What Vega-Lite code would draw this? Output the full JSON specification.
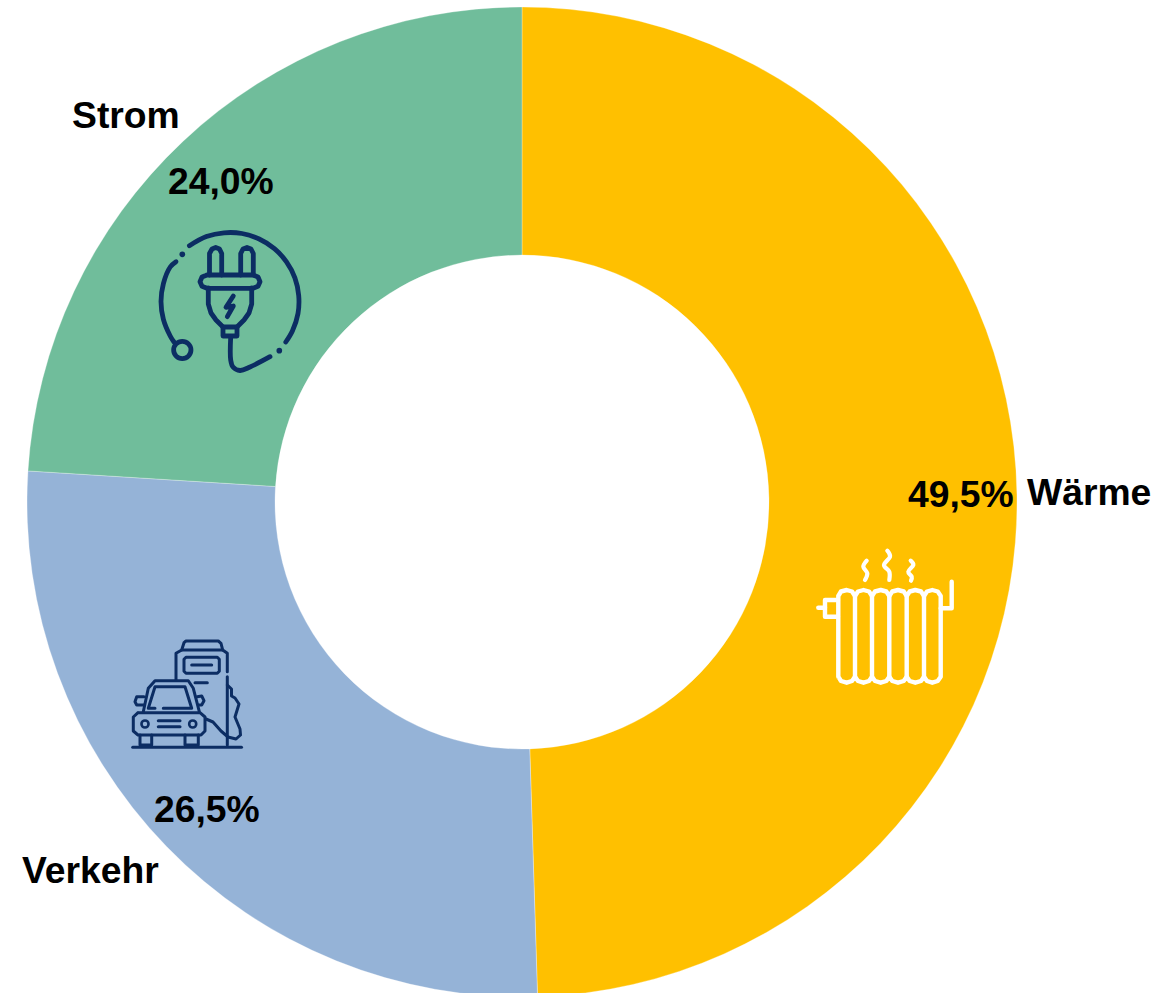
{"$schema":"https://vega.github.io/schema/vega-lite/v6.json","width":1044,"height":1004,"padding":{"left":0,"top":0,"right":109,"bottom":0},"autosize":{"type":"none"},"background":"#ffffff","config":{"view":{"stroke":null}},
"datasets":{
"shares":[{"sector":"Wärme","share":49.5,"rank":1},{"sector":"Verkehr","share":26.5,"rank":2},{"sector":"Strom","share":24.0,"rank":3}],
"labels":[{"t":"Strom","x":72,"y":128},{"t":"24,0%","x":168,"y":194},{"t":"Wärme","x":1027,"y":505},{"t":"49,5%","x":908,"y":507},{"t":"26,5%","x":154,"y":822},{"t":"Verkehr","x":22,"y":883}],
"plug":[
{"p":"a","s":1,"x":189.4,"y":245.7},{"p":"a","s":2,"x":206.4,"y":236.6},{"p":"a","s":3,"x":224,"y":232.8},{"p":"a","s":4,"x":242,"y":233.5},{"p":"a","s":5,"x":259.2,"y":239},{"p":"a","s":6,"x":274.4,"y":248.6},{"p":"a","s":7,"x":286.5,"y":261.9},{"p":"a","s":8,"x":294.9,"y":277.9},{"p":"a","s":9,"x":298.7,"y":295.5},{"p":"a","s":10,"x":298,"y":313.5},{"p":"a","s":11,"x":292.5,"y":330.7},{"p":"a","s":12,"x":285.8,"y":342},
{"p":"b","s":1,"x":176,"y":261.7},{"p":"b","s":2,"x":170.2,"y":267},{"p":"b","s":3,"x":163.4,"y":283.6},{"p":"b","s":4,"x":161,"y":301.5},{"p":"b","s":5,"x":163.4,"y":319.4},{"p":"b","s":6,"x":170.2,"y":336},{"p":"b","s":7,"x":174,"y":342},
{"p":"c","s":1,"x":209.5,"y":275},{"p":"c","s":2,"x":209.5,"y":253.5},{"p":"c","s":3,"x":212,"y":249},{"p":"c","s":4,"x":215.7,"y":247.5},{"p":"c","s":5,"x":219.5,"y":249},{"p":"c","s":6,"x":221.7,"y":253.5},{"p":"c","s":7,"x":221.7,"y":275},
{"p":"d","s":1,"x":240.7,"y":275},{"p":"d","s":2,"x":240.7,"y":253.5},{"p":"d","s":3,"x":243,"y":249},{"p":"d","s":4,"x":247,"y":247.5},{"p":"d","s":5,"x":251,"y":249},{"p":"d","s":6,"x":253.3,"y":253.5},{"p":"d","s":7,"x":253.3,"y":275},
{"p":"e","s":1,"x":207,"y":275},{"p":"e","s":2,"x":253,"y":275},{"p":"e","s":3,"x":258,"y":277},{"p":"e","s":4,"x":260,"y":281.7},{"p":"e","s":5,"x":258,"y":286.3},{"p":"e","s":6,"x":253,"y":288.3},{"p":"e","s":7,"x":207,"y":288.3},{"p":"e","s":8,"x":202,"y":286.3},{"p":"e","s":9,"x":200,"y":281.7},{"p":"e","s":10,"x":202,"y":277},{"p":"e","s":11,"x":207,"y":275},
{"p":"f","s":1,"x":208.3,"y":288},{"p":"f","s":2,"x":208.3,"y":304},{"p":"f","s":3,"x":211,"y":313},{"p":"f","s":4,"x":216,"y":320},{"p":"f","s":5,"x":223,"y":327},{"p":"f","s":6,"x":237,"y":327},{"p":"f","s":7,"x":244,"y":320},{"p":"f","s":8,"x":249,"y":313},{"p":"f","s":9,"x":251.7,"y":304},{"p":"f","s":10,"x":251.7,"y":288},
{"p":"g","s":1,"x":223,"y":327},{"p":"g","s":2,"x":223,"y":336},{"p":"g","s":3,"x":237,"y":336},{"p":"g","s":4,"x":237,"y":327},
{"p":"h","s":1,"x":230.7,"y":336.7},{"p":"h","s":2,"x":230.7,"y":360},{"p":"h","s":3,"x":233,"y":367},{"p":"h","s":4,"x":240,"y":370.5},{"p":"h","s":5,"x":250,"y":367},{"p":"h","s":6,"x":270,"y":356.7},
{"p":"i","s":1,"x":233.3,"y":296},{"p":"i","s":2,"x":226,"y":307.3},{"p":"i","s":3,"x":233.3,"y":306},{"p":"i","s":4,"x":227.3,"y":316.7}],
"plugRing":[{"x":182.3,"y":350}],
"plugDots":[{"x":182.3,"y":254.3},{"x":279.3,"y":350.7}],
"car":[
{"p":"a","s":1,"x":176,"y":680},{"p":"a","s":2,"x":176,"y":653.3},{"p":"a","s":3,"x":181.7,"y":650},{"p":"a","s":4,"x":184,"y":642.7},{"p":"a","s":5,"x":186,"y":641},{"p":"a","s":6,"x":218.3,"y":641},{"p":"a","s":7,"x":221,"y":643.3},{"p":"a","s":8,"x":222.7,"y":650},{"p":"a","s":9,"x":227.3,"y":653.3},{"p":"a","s":10,"x":227.3,"y":671.7},
{"p":"b","s":1,"x":181.7,"y":650},{"p":"b","s":2,"x":222.7,"y":650},
{"p":"c","s":1,"x":227.3,"y":676.7},{"p":"c","s":2,"x":227.3,"y":745},
{"p":"d","s":1,"x":186,"y":657.3},{"p":"d","s":2,"x":217.3,"y":657.3},{"p":"d","s":3,"x":219.3,"y":659.3},{"p":"d","s":4,"x":219.3,"y":671.3},{"p":"d","s":5,"x":217.3,"y":673.3},{"p":"d","s":6,"x":186,"y":673.3},{"p":"d","s":7,"x":184,"y":671.3},{"p":"d","s":8,"x":184,"y":659.3},{"p":"d","s":9,"x":186,"y":657.3},
{"p":"e","s":1,"x":191.7,"y":665},{"p":"e","s":2,"x":211.7,"y":665},
{"p":"f","s":1,"x":195,"y":682.7},{"p":"f","s":2,"x":207.3,"y":682.7},
{"p":"g","s":1,"x":143.3,"y":711.7},{"p":"g","s":2,"x":148.3,"y":688.3},{"p":"g","s":3,"x":155,"y":680.7},{"p":"g","s":4,"x":188.3,"y":680.7},{"p":"g","s":5,"x":193.3,"y":688.3},{"p":"g","s":6,"x":199.3,"y":711.7},
{"p":"h","s":1,"x":155,"y":708.3},{"p":"h","s":2,"x":148.3,"y":708.3},{"p":"h","s":3,"x":155,"y":686.7},{"p":"h","s":4,"x":185,"y":686.7},{"p":"h","s":5,"x":191.7,"y":708.3},{"p":"h","s":6,"x":163.3,"y":708.3},
{"p":"i","s":1,"x":138,"y":712.7},{"p":"i","s":2,"x":200,"y":712.7},{"p":"i","s":3,"x":205,"y":717},{"p":"i","s":4,"x":205,"y":731},{"p":"i","s":5,"x":201,"y":735},{"p":"i","s":6,"x":138,"y":735},{"p":"i","s":7,"x":133.3,"y":731},{"p":"i","s":8,"x":133.3,"y":717},{"p":"i","s":9,"x":138,"y":712.7},
{"p":"j","s":1,"x":144,"y":696.7},{"p":"j","s":2,"x":136.7,"y":696.7},{"p":"j","s":3,"x":135,"y":701.7},{"p":"j","s":4,"x":136.7,"y":705},{"p":"j","s":5,"x":144,"y":705},
{"p":"k","s":1,"x":197.3,"y":696.7},{"p":"k","s":2,"x":201.7,"y":696},{"p":"k","s":3,"x":204,"y":700.7},{"p":"k","s":4,"x":201.7,"y":705},{"p":"k","s":5,"x":198.3,"y":705},
{"p":"l","s":1,"x":158.3,"y":720.7},{"p":"l","s":2,"x":180,"y":720.7},
{"p":"m","s":1,"x":158.3,"y":726.7},{"p":"m","s":2,"x":180,"y":726.7},
{"p":"n","s":1,"x":140,"y":735},{"p":"n","s":2,"x":140,"y":745},{"p":"n","s":3,"x":151.7,"y":745},{"p":"n","s":4,"x":151.7,"y":735},
{"p":"o","s":1,"x":185,"y":735},{"p":"o","s":2,"x":185,"y":745},{"p":"o","s":3,"x":198.3,"y":745},{"p":"o","s":4,"x":198.3,"y":735},
{"p":"q","s":1,"x":132.7,"y":747.3},{"p":"q","s":2,"x":241.5,"y":747.3},
{"p":"r","s":1,"x":206,"y":719},{"p":"r","s":2,"x":213,"y":722},{"p":"r","s":3,"x":221,"y":731},{"p":"r","s":4,"x":228,"y":737},{"p":"r","s":5,"x":236,"y":739},{"p":"r","s":6,"x":240.5,"y":735},{"p":"r","s":7,"x":240,"y":729},{"p":"r","s":8,"x":235,"y":717},{"p":"r","s":9,"x":239,"y":704},{"p":"r","s":10,"x":235,"y":698},{"p":"r","s":11,"x":231.5,"y":696},{"p":"r","s":12,"x":231.5,"y":689},{"p":"r","s":13,"x":227.3,"y":685}],
"carLamps":[{"x":145,"y":724},{"x":192.7,"y":724}],
"radiator":[
{"p":"a","s":1,"x":838.3,"y":676.7},{"p":"a","s":2,"x":838.3,"y":596},{"p":"a","s":3,"x":841,"y":591.5},{"p":"a","s":4,"x":846.7,"y":590},{"p":"a","s":5,"x":852,"y":591.5},{"p":"a","s":6,"x":855,"y":596},{"p":"a","s":7,"x":858,"y":591.5},{"p":"a","s":8,"x":863.5,"y":590},{"p":"a","s":9,"x":869,"y":591.5},{"p":"a","s":10,"x":872,"y":596},{"p":"a","s":11,"x":875,"y":591.5},{"p":"a","s":12,"x":880.7,"y":590},{"p":"a","s":13,"x":886.3,"y":591.5},{"p":"a","s":14,"x":889.3,"y":596},{"p":"a","s":15,"x":892.3,"y":591.5},{"p":"a","s":16,"x":898,"y":590},{"p":"a","s":17,"x":903.7,"y":591.5},{"p":"a","s":18,"x":906.7,"y":596},{"p":"a","s":19,"x":909.7,"y":591.5},{"p":"a","s":20,"x":915.3,"y":590},{"p":"a","s":21,"x":921,"y":591.5},{"p":"a","s":22,"x":924,"y":596},{"p":"a","s":23,"x":927,"y":591.5},{"p":"a","s":24,"x":932.3,"y":590},{"p":"a","s":25,"x":937.7,"y":591.5},{"p":"a","s":26,"x":940.7,"y":596},{"p":"a","s":27,"x":940.7,"y":676.7},{"p":"a","s":28,"x":937.7,"y":681},{"p":"a","s":29,"x":932.3,"y":682.7},{"p":"a","s":30,"x":927,"y":681},{"p":"a","s":31,"x":924,"y":676.7},{"p":"a","s":32,"x":921,"y":681},{"p":"a","s":33,"x":915.3,"y":682.7},{"p":"a","s":34,"x":909.7,"y":681},{"p":"a","s":35,"x":906.7,"y":676.7},{"p":"a","s":36,"x":903.7,"y":681},{"p":"a","s":37,"x":898,"y":682.7},{"p":"a","s":38,"x":892.3,"y":681},{"p":"a","s":39,"x":889.3,"y":676.7},{"p":"a","s":40,"x":886.3,"y":681},{"p":"a","s":41,"x":880.7,"y":682.7},{"p":"a","s":42,"x":875,"y":681},{"p":"a","s":43,"x":872,"y":676.7},{"p":"a","s":44,"x":869,"y":681},{"p":"a","s":45,"x":863.5,"y":682.7},{"p":"a","s":46,"x":858,"y":681},{"p":"a","s":47,"x":855,"y":676.7},{"p":"a","s":48,"x":852,"y":681},{"p":"a","s":49,"x":846.7,"y":682.7},{"p":"a","s":50,"x":841,"y":681},{"p":"a","s":51,"x":838.3,"y":676.7},
{"p":"b","s":1,"x":855,"y":596},{"p":"b","s":2,"x":855,"y":676.7},
{"p":"c","s":1,"x":872,"y":596},{"p":"c","s":2,"x":872,"y":676.7},
{"p":"d","s":1,"x":889.3,"y":596},{"p":"d","s":2,"x":889.3,"y":676.7},
{"p":"e","s":1,"x":906.7,"y":596},{"p":"e","s":2,"x":906.7,"y":676.7},
{"p":"f","s":1,"x":924,"y":596},{"p":"f","s":2,"x":924,"y":676.7},
{"p":"g","s":1,"x":838,"y":600},{"p":"g","s":2,"x":825,"y":600},{"p":"g","s":3,"x":825,"y":616.7},{"p":"g","s":4,"x":838,"y":616.7},
{"p":"h","s":1,"x":818.3,"y":607.7},{"p":"h","s":2,"x":825,"y":607.7},
{"p":"i","s":1,"x":940.7,"y":608.3},{"p":"i","s":2,"x":951.7,"y":608.3},{"p":"i","s":3,"x":951.7,"y":581.7}],
"steam":[
{"p":"a","s":1,"x":866.7,"y":560.7},{"p":"a","s":2,"x":863.3,"y":566.7},{"p":"a","s":3,"x":867.3,"y":573.3},{"p":"a","s":4,"x":865,"y":580},
{"p":"b","s":1,"x":887.3,"y":550.7},{"p":"b","s":2,"x":890,"y":556.7},{"p":"b","s":3,"x":884,"y":565},{"p":"b","s":4,"x":889.3,"y":571.7},{"p":"b","s":5,"x":889.3,"y":580},
{"p":"c","s":1,"x":910.7,"y":560.7},{"p":"c","s":2,"x":913.3,"y":565},{"p":"c","s":3,"x":908.3,"y":571.7},{"p":"c","s":4,"x":911.7,"y":576.7},{"p":"c","s":5,"x":911,"y":580.7}]
},
"layer":[
{"data":{"name":"shares"},"mark":{"type":"arc","outerRadius":495,"innerRadius":247,"stroke":"#ffffff","strokeWidth":0.3},
"encoding":{
"theta":{"field":"share","type":"quantitative","stack":true},"order":{"field":"rank"},
"color":{"field":"sector","type":"nominal","legend":null,"scale":{"domain":["Wärme","Verkehr","Strom"],"range":["#FFC000","#95B3D7","#70BD9B"]}}}},
{"data":{"name":"plug"},"transform":[{"filter":"datum.p!='a'&&datum.p!='b'&&datum.p!='h'"}],"mark":{"type":"line","stroke":"#0C2D63","strokeWidth":4.8,"strokeCap":"round","strokeJoin":"round"},"encoding":{"x":{"field":"x","type":"quantitative","scale":{"domain":[0,1044],"nice":false,"zero":false},"axis":null},"y":{"field":"y","type":"quantitative","scale":{"domain":[1004,0],"nice":false,"zero":false},"axis":null},"detail":{"field":"p"},"order":{"field":"s"}}},
{"data":{"name":"plug"},"transform":[{"filter":"datum.p=='a'||datum.p=='b'||datum.p=='h'"}],"mark":{"type":"line","interpolate":"catmull-rom","stroke":"#0C2D63","strokeWidth":4.8,"strokeCap":"round","strokeJoin":"round"},"encoding":{"x":{"field":"x","type":"quantitative","axis":null},"y":{"field":"y","type":"quantitative","axis":null},"detail":{"field":"p"},"order":{"field":"s"}}},
{"data":{"name":"plugRing"},"mark":{"type":"point","filled":false,"size":300,"stroke":"#0C2D63","strokeWidth":4.8,"opacity":1},"encoding":{"x":{"field":"x","type":"quantitative","axis":null},"y":{"field":"y","type":"quantitative","axis":null}}},
{"data":{"name":"plugDots"},"mark":{"type":"point","filled":true,"size":32,"fill":"#0C2D63","opacity":1},"encoding":{"x":{"field":"x","type":"quantitative","axis":null},"y":{"field":"y","type":"quantitative","axis":null}}},
{"data":{"name":"car"},"mark":{"type":"line","stroke":"#0C2D63","strokeWidth":3,"strokeCap":"round","strokeJoin":"round"},"encoding":{"x":{"field":"x","type":"quantitative","axis":null},"y":{"field":"y","type":"quantitative","axis":null},"detail":{"field":"p"},"order":{"field":"s"}}},
{"data":{"name":"carLamps"},"mark":{"type":"point","filled":false,"size":50,"stroke":"#0C2D63","strokeWidth":2.6,"opacity":1},"encoding":{"x":{"field":"x","type":"quantitative","axis":null},"y":{"field":"y","type":"quantitative","axis":null}}},
{"data":{"name":"radiator"},"mark":{"type":"line","stroke":"#ffffff","strokeWidth":4.4,"strokeCap":"round","strokeJoin":"round"},"encoding":{"x":{"field":"x","type":"quantitative","axis":null},"y":{"field":"y","type":"quantitative","axis":null},"detail":{"field":"p"},"order":{"field":"s"}}},
{"data":{"name":"steam"},"mark":{"type":"line","interpolate":"cardinal","stroke":"#ffffff","strokeWidth":4.2,"strokeCap":"round"},"encoding":{"x":{"field":"x","type":"quantitative","axis":null},"y":{"field":"y","type":"quantitative","axis":null},"detail":{"field":"p"},"order":{"field":"s"}}},
{"data":{"name":"labels"},"mark":{"type":"text","font":"Liberation Sans","fontWeight":"bold","fontSize":37.3,"align":"left","baseline":"alphabetic","fill":"#000000"},"encoding":{"x":{"field":"x","type":"quantitative","axis":null},"y":{"field":"y","type":"quantitative","axis":null},"text":{"field":"t"}}}
]}
